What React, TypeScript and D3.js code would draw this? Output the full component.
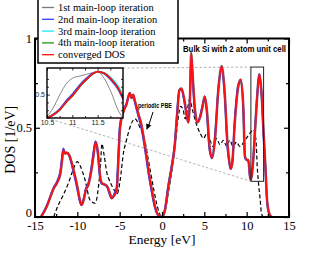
import * as d3 from 'd3';
import { useEffect, useRef } from 'react';

// main panel, energy grid shared by the SCF curves
const energy = [
  -14.3, -13.6, -13.2, -12.8, -12.4, -12.0, -11.8, -11.65, -11.45, -11.25,
  -10.9, -10.7, -10.4, -10.0, -9.7, -9.5, -9.2, -9.0, -8.7, -8.4,
  -8.1, -7.85, -7.6, -7.3, -7.1, -6.7, -6.45, -6.1, -5.95, -5.6,
  -5.35, -5.15, -4.96, -4.55, -4.2, -3.8, -3.6, -3.4, -3.2, -2.8,
  -2.4, -2.0, -1.6, -1.2, -0.83, -0.43, 0.0, 0.35, 0.75, 1.15,
  1.5, 1.8, 2.05, 2.3, 2.6, 2.9, 3.1, 3.3, 3.45, 3.6,
  3.9, 4.2, 4.5, 4.8, 5.05, 5.3, 5.6, 5.9, 6.25, 6.65,
  7.05, 7.4, 7.75, 7.9, 8.1, 8.3, 8.6, 9.0, 9.3, 9.6,
  9.8, 10.0, 10.2, 10.4, 10.5, 10.75, 11.0, 11.25, 11.5, 11.75,
  12.0, 12.2, 12.4, 12.6, 12.9,
];

const dosConverged = [
  0, 0.06, 0.11, 0.16, 0.19, 0.245, 0.32, 0.375, 0.355, 0.36,
  0.34, 0.31, 0.255, 0.17, 0.095, 0.067, 0.105, 0.15, 0.18, 0.245,
  0.34, 0.42, 0.375, 0.225, 0.19, 0.18, 0.17, 0.124, 0.105, 0.124,
  0.15, 0.32, 0.5, 0.59, 0.63, 0.695, 0.667, 0.685, 0.65, 0.58,
  0.51, 0.395, 0.265, 0.15, 0.06, 0.01, 0, 0.04, 0.17, 0.28,
  0.395, 0.58, 0.71, 0.72, 0.667, 0.58, 0.53, 0.66, 0.92, 0.81,
  0.6, 0.53, 0.56, 0.62, 0.675, 0.6, 0.4, 0.33, 0.43, 0.71,
  0.845, 0.7, 0.4, 0.33, 0.27, 0.3, 0.53, 0.73, 0.77, 0.62,
  0.34, 0.32, 0.32, 0.226, 0.21, 0.3, 0.49, 0.68, 0.8, 0.7,
  0.47, 0.3, 0.1, 0.03, 0,
];

const dosIter2 = [
  0, 0.065, 0.115, 0.165, 0.2, 0.26, 0.34, 0.385, 0.36, 0.36,
  0.335, 0.3, 0.24, 0.155, 0.085, 0.067, 0.115, 0.16, 0.19, 0.26,
  0.36, 0.425, 0.36, 0.21, 0.185, 0.18, 0.165, 0.115, 0.105, 0.135,
  0.17, 0.36, 0.52, 0.6, 0.635, 0.695, 0.665, 0.68, 0.64, 0.565,
  0.49, 0.375, 0.245, 0.135, 0.05, 0.008, 0, 0.045, 0.18, 0.29,
  0.41, 0.6, 0.715, 0.715, 0.655, 0.57, 0.53, 0.68, 0.9, 0.79,
  0.58, 0.53, 0.565, 0.63, 0.675, 0.58, 0.38, 0.33, 0.45, 0.72,
  0.84, 0.68, 0.38, 0.32, 0.27, 0.31, 0.55, 0.74, 0.765, 0.6,
  0.33, 0.32, 0.31, 0.22, 0.21, 0.31, 0.51, 0.69, 0.8, 0.69,
  0.45, 0.28, 0.09, 0.025, 0,
];

// periodic PBE reference (dashed)
const pbeEnergy = [
  -12.8, -12.25, -11.65, -11.05, -10.5, -10.0, -9.7, -9.1, -8.5, -7.9,
  -7.5, -7.25, -7.1, -6.85, -6.5, -6.25, -5.75, -5.3, -4.96, -4.55,
  -4.2, -3.8, -3.2, -2.6, -2.0, -1.5, -1.0, -0.5, -0.2, 0.0,
  0.4, 0.8, 1.2, 1.6, 1.9, 2.2, 2.5, 2.75, 3.0, 3.25,
  3.6, 4.0, 4.5, 4.9, 5.3, 5.67, 6.05, 6.45, 6.85, 7.25,
  7.65, 8.0, 8.4, 8.8, 9.2, 9.8, 10.4, 10.8, 11.1, 11.25,
  11.4, 11.6, 11.75, 11.95,
];
const dosPBE = [
  0, 0.067, 0.124, 0.19, 0.264, 0.31, 0.29, 0.21, 0.095, 0.077,
  0.17, 0.3, 0.41, 0.35, 0.245, 0.21, 0.16, 0.13, 0.2, 0.36,
  0.43, 0.5, 0.55, 0.5, 0.42, 0.29, 0.16, 0.05, 0.01, 0,
  0.04, 0.15, 0.27, 0.42, 0.55, 0.62, 0.6, 0.55, 0.6, 0.66,
  0.6, 0.53, 0.47, 0.44, 0.47, 0.43, 0.395, 0.44, 0.405, 0.43,
  0.395, 0.43, 0.395, 0.42, 0.395, 0.43, 0.47, 0.49, 0.43, 0.28,
  0.19, 0.095, 0.02, 0,
];

// inset: zoom on the top valence peak
const insetEnergy = [10.5, 10.62, 10.75, 10.89, 11.02, 11.15, 11.28, 11.41, 11.5, 11.63, 11.77, 11.9, 12.0];
const insetIter1 = [0.217, 0.326, 0.495, 0.646, 0.716, 0.737, 0.759, 0.781, 0.79, 0.705, 0.523, 0.304, 0.2];
const insetIter2 = [0.2, 0.245, 0.315, 0.43, 0.52, 0.625, 0.71, 0.775, 0.794, 0.765, 0.68, 0.57, 0.44];
const insetIter3 = [0.2, 0.235, 0.3, 0.405, 0.495, 0.6, 0.69, 0.765, 0.794, 0.78, 0.71, 0.61, 0.49];
const insetIter4 = [0.2, 0.238, 0.303, 0.41, 0.498, 0.605, 0.693, 0.767, 0.794, 0.773, 0.696, 0.589, 0.46];
const insetConverged = [0.2, 0.239, 0.304, 0.412, 0.499, 0.607, 0.694, 0.768, 0.794, 0.772, 0.694, 0.586, 0.456];
const insetXDomain = [10.5, 12];
const insetYDomain = [0.2, 0.84];

const legendLabels = [
  '1st main-loop iteration',
  '2nd main-loop iteration',
  '3rd main-loop iteration',
  '4th main-loop iteration',
  'converged DOS',
];
const legendColors = ['#7a7a7a', '#3b3bff', '#22e8f0', '#1a9a1a', '#ff1010'];

const xTicks = [-15, -10, -5, 0, 5, 10, 15];
const xMinorTicks = [-12.5, -7.5, -2.5, 2.5, 7.5, 12.5];
const yTicks = [0, 0.5, 1];
const yMinorTicks = [0.25, 0.75];
const insetXTicks = [10.5, 11, 11.5];
const insetXMinor = [10.75, 11.25, 11.75];
const insetYTicks = [0.5];
const insetYMinor = [0.3, 0.4, 0.6, 0.7];

const serif = '"Liberation Serif", "Times New Roman", serif';
const sans = '"Liberation Sans", Arial, sans-serif';

export default function App() {
  const ref = useRef<SVGSVGElement>(null);

  useEffect(() => {
    const svg = d3.select(ref.current);
    svg.selectAll('*').remove();

    const x = d3.scaleLinear().domain([-15, 15]).range([35, 289]);
    const y = d3.scaleLinear().domain([0, 1]).range([217, 38.5]);
    const [x0, x1] = x.range();
    const [y0, y1] = y.range();

    const line = (xs: number[], ys: number[], sx: any, sy: any) =>
      d3.line<number>().x((_, i) => sx(xs[i])).y(d => sy(d)).curve(d3.curveMonotoneX)(ys);

    // zoom connector lines (inset -> box)
    const ix = d3.scaleLinear().domain(insetXDomain).range([47, 123]);
    const iy = d3.scaleLinear().domain(insetYDomain).range([118, 68]);
    const conn = svg.append('g').attr('stroke', '#b4b4b4').attr('stroke-width', 1).attr('stroke-dasharray', '2.5,2');
    conn.append('line').attr('x1', ix(insetXDomain[1])).attr('y1', iy(insetYDomain[1]))
      .attr('x2', x(insetXDomain[0])).attr('y2', y(insetYDomain[1]));
    conn.append('line').attr('x1', ix(insetXDomain[0])).attr('y1', iy(insetYDomain[0]))
      .attr('x2', x(insetXDomain[0])).attr('y2', y(insetYDomain[0]));

    // curves
    svg.append('path').attr('d', line(pbeEnergy, dosPBE, x, y)).attr('fill', 'none')
      .attr('stroke', '#000').attr('stroke-width', 1.2).attr('stroke-dasharray', '4,2.5');
    svg.append('path').attr('d', line(energy, dosConverged, x, y)).attr('fill', 'none')
      .attr('stroke', legendColors[0]).attr('stroke-width', 2.6);
    svg.append('path').attr('d', line(energy, dosIter2, x, y)).attr('fill', 'none')
      .attr('stroke', legendColors[1]).attr('stroke-width', 1.8);
    svg.append('path').attr('d', line(energy, dosConverged, x, y)).attr('fill', 'none')
      .attr('stroke', legendColors[4]).attr('stroke-width', 1.8);

    // zoom box
    svg.append('rect')
      .attr('x', x(insetXDomain[0])).attr('y', y(insetYDomain[1]))
      .attr('width', x(insetXDomain[1]) - x(insetXDomain[0]))
      .attr('height', y(insetYDomain[0]) - y(insetYDomain[1]))
      .attr('fill', 'none').attr('stroke', '#222').attr('stroke-width', 1);

    // axes, ticks inward on all four sides
    const ax = svg.append('g').attr('font-family', serif);
    const bottom = ax.append('g').attr('transform', `translate(0,${y0})`)
      .call(d3.axisBottom(x).tickValues(xTicks).tickSize(-5).tickPadding(4).tickFormat(d => String(d)));
    ax.append('g').attr('transform', `translate(0,${y0})`)
      .call(d3.axisBottom(x).tickValues(xMinorTicks).tickSize(-3).tickFormat(() => ''));
    ax.append('g').attr('transform', `translate(0,${y1})`)
      .call(d3.axisTop(x).tickValues(xTicks).tickSize(-5).tickFormat(() => ''));
    ax.append('g').attr('transform', `translate(0,${y1})`)
      .call(d3.axisTop(x).tickValues(xMinorTicks).tickSize(-3).tickFormat(() => ''));
    const left = ax.append('g').attr('transform', `translate(${x0},0)`)
      .call(d3.axisLeft(y).tickValues(yTicks).tickSize(-5).tickPadding(3).tickFormat(d => String(d)));
    ax.append('g').attr('transform', `translate(${x0},0)`)
      .call(d3.axisLeft(y).tickValues(yMinorTicks).tickSize(-3).tickFormat(() => ''));
    ax.append('g').attr('transform', `translate(${x1},0)`)
      .call(d3.axisRight(y).tickValues(yTicks).tickSize(-5).tickFormat(() => ''));
    ax.append('g').attr('transform', `translate(${x1},0)`)
      .call(d3.axisRight(y).tickValues(yMinorTicks).tickSize(-3).tickFormat(() => ''));
    ax.selectAll('.domain').remove();
    ax.selectAll('.tick line').attr('stroke', '#000').attr('stroke-width', 1.2);
    bottom.selectAll('text').attr('font-size', 12.5).attr('font-family', serif).attr('fill', '#000');
    left.selectAll('text').attr('font-size', 12.5).attr('font-family', serif).attr('fill', '#000');
    left.selectAll('.tick').filter(d => d === 0).select('text').attr('dy', '-0.05em');

    svg.append('rect').attr('x', x0).attr('y', y1).attr('width', x1 - x0).attr('height', y0 - y1)
      .attr('fill', 'none').attr('stroke', '#000').attr('stroke-width', 2);

    svg.append('text').attr('x', (x0 + x1) / 2).attr('y', 244).attr('text-anchor', 'middle')
      .attr('font-family', serif).attr('font-size', 13.5).text('Energy [eV]');
    svg.append('text').attr('transform', `translate(15,${(y0 + y1) / 2 + 12}) rotate(-90)`)
      .attr('text-anchor', 'middle').attr('font-family', serif).attr('font-size', 14).text('DOS [1/eV]');

    svg.append('text').attr('x', 234.5).attr('y', 52).attr('text-anchor', 'middle')
      .attr('font-family', sans).attr('font-weight', 'bold').attr('font-size', 8.5)
      .attr('textLength', 103).attr('lengthAdjust', 'spacingAndGlyphs')
      .text('Bulk Si with 2 atom unit cell');

    // periodic PBE annotation
    svg.append('text').attr('x', 138).attr('y', 108)
      .attr('font-family', sans).attr('font-weight', 'bold').attr('font-size', 6.5)
      .attr('textLength', 34).attr('lengthAdjust', 'spacingAndGlyphs').text('periodic PBE');
    svg.append('line').attr('x1', 153).attr('y1', 112).attr('x2', 148.5).attr('y2', 126)
      .attr('stroke', '#000').attr('stroke-width', 1);
    svg.append('path').attr('d', 'M146.5,130 L146.2,123.5 L151.3,125.2 Z').attr('fill', '#000');

    // inset
    const inset = svg.append('g');
    inset.append('rect').attr('x', 47).attr('y', 68).attr('width', 76).attr('height', 50)
      .attr('fill', '#fff');
    const insetSeries = [insetIter1, insetIter2, insetIter3, insetIter4, insetConverged];
    const insetWidths = [0.9, 1.6, 1.6, 1.4, 1.6];
    insetSeries.forEach((s, i) => {
      inset.append('path').attr('d', line(insetEnergy, s, ix, iy)).attr('fill', 'none')
        .attr('stroke', legendColors[i]).attr('stroke-width', insetWidths[i]);
    });
    const iax = inset.append('g').attr('font-family', serif);
    const ib = iax.append('g').attr('transform', 'translate(0,118)')
      .call(d3.axisBottom(ix).tickValues(insetXTicks).tickSize(-3).tickPadding(2).tickFormat(d => String(d)));
    iax.append('g').attr('transform', 'translate(0,118)')
      .call(d3.axisBottom(ix).tickValues(insetXMinor).tickSize(-2).tickFormat(() => ''));
    iax.append('g').attr('transform', 'translate(0,68)')
      .call(d3.axisTop(ix).tickValues(insetXTicks.concat(insetXMinor)).tickSize(-2.5).tickFormat(() => ''));
    const il = iax.append('g').attr('transform', 'translate(47,0)')
      .call(d3.axisLeft(iy).tickValues(insetYTicks).tickSize(-3).tickPadding(2).tickFormat(d => String(d)));
    iax.append('g').attr('transform', 'translate(47,0)')
      .call(d3.axisLeft(iy).tickValues(insetYMinor).tickSize(-2).tickFormat(() => ''));
    iax.append('g').attr('transform', 'translate(123,0)')
      .call(d3.axisRight(iy).tickValues(insetYTicks.concat(insetYMinor)).tickSize(-2).tickFormat(() => ''));
    iax.selectAll('.domain').remove();
    iax.selectAll('.tick line').attr('stroke', '#000').attr('stroke-width', 0.8);
    ib.selectAll('text').attr('font-size', 7).attr('fill', '#222');
    il.selectAll('text').attr('font-size', 7).attr('fill', '#222');
    inset.append('rect').attr('x', 47).attr('y', 68).attr('width', 76).attr('height', 50)
      .attr('fill', 'none').attr('stroke', '#000').attr('stroke-width', 1.4);

    // legend
    const lg = svg.append('g');
    lg.append('rect').attr('x', 38).attr('y', -1).attr('width', 140).attr('height', 64)
      .attr('fill', '#fff').attr('stroke', '#000').attr('stroke-width', 1.5);
    legendLabels.forEach((lab, i) => {
      const yy = 7.5 + i * 11.8;
      lg.append('line').attr('x1', 42).attr('x2', 54).attr('y1', yy).attr('y2', yy)
        .attr('stroke', legendColors[i]).attr('stroke-width', 1.3);
      lg.append('text').attr('x', 58).attr('y', yy).attr('dy', '0.33em')
        .attr('font-family', serif).attr('font-size', 10.5).text(lab);
    });
  }, []);

  return (
    <svg
      ref={ref}
      width={326}
      height={265}
      style={{ position: 'absolute', left: 0, top: 0, background: '#fff' }}
    />
  );
}
